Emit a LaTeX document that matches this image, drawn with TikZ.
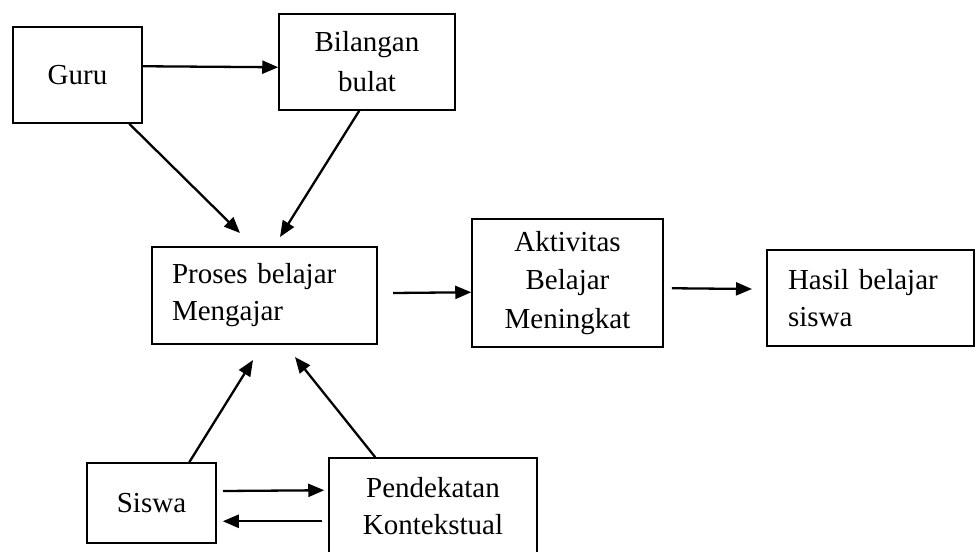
\documentclass[tikz,border=0pt]{standalone}
\usepackage{fontspec}
\setmainfont{Liberation Serif}
\usetikzlibrary{arrows.meta,calc}
\begin{document}
\begin{tikzpicture}[x=1pt,y=-1pt,
  box/.style={draw,line width=1.5pt,inner sep=0pt,font=\fontsize{29}{37}\selectfont},
  arr/.style={line width=2.3pt,-{Triangle[length=16pt,width=13pt]}}]
\useasboundingbox (0,0) rectangle (976,551);
% boxes
\node[box,minimum width=129pt,minimum height=96pt] (guru) at (77.5,75) {Guru};
\node[box,minimum width=176pt,minimum height=96pt,align=center] (bil) at (367,62) {Bilangan\\[3pt]bulat};
\node[box,minimum height=97pt,inner xsep=20pt,text width=185pt,align=left] (pbm) at (264.5,295.5) {Proses belajar\\Mengajar};
\node[box,minimum width=191pt,minimum height=128pt,align=center,font=\fontsize{29}{38.5}\selectfont] (akt) at (567.5,283) {Aktivitas\\Belajar\\Meningkat};
\node[box,minimum height=96pt,inner xsep=21pt,text width=165pt,align=left] (hasil) at (870.5,298) {Hasil belajar\\siswa};
\node[box,minimum width=129pt,minimum height=80pt] (siswa) at (151.5,503) {Siswa};
\node[box,minimum width=208pt,minimum height=96pt,align=center] (pend) at (433,506) {Pendekatan\\Kontekstual};
% free ends
\coordinate (g1) at (240,233);
\coordinate (b1) at (280,237);
\coordinate (p1) at (393,293);
\coordinate (h1) at (752,289);
\coordinate (p2) at (253,360);
\coordinate (p3) at (295,357);
\coordinate (s1) at (223,491);
% connectors
\draw[arr] ($(guru.north east)+(0,40)$) -- ($(bil.north west)+(0,54)$);
\draw[arr] ($(guru.south west)+(117,0)$) -- (g1);
\draw[arr] ($(bil.south west)+(81,0)$) -- (b1);
\draw[arr] (p1) -- ($(akt.north west)+(0,74)$);
\draw[arr] ($(akt.north east)+(8,70)$) -- (h1);
\draw[arr] ($(siswa.north west)+(103,0)$) -- (p2);
\draw[arr] ($(pend.north west)+(47,0)$) -- (p3);
\draw[arr] (s1) -- ($(pend.north west)+(-4,33)$);
\draw[arr] ($(pend.north west)+(-6,64)$) -- ($(siswa.north east)+(6,59)$);
\end{tikzpicture}
\end{document}
